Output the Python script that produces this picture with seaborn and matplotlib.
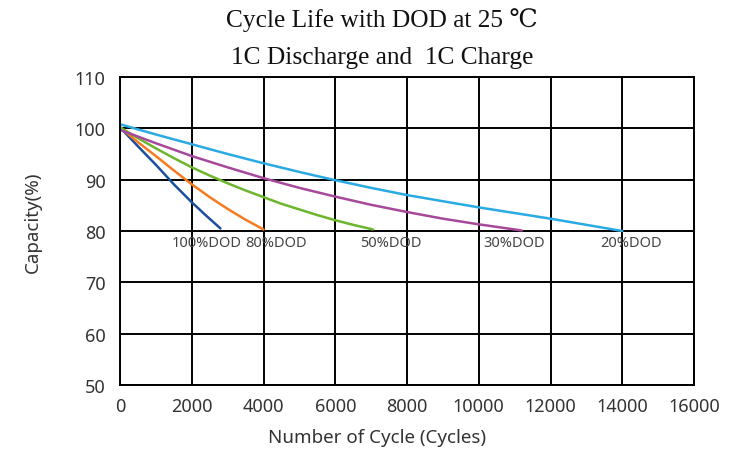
import numpy as np
import pandas as pd
import matplotlib
matplotlib.use("Agg")
import matplotlib.pyplot as plt
import seaborn as sns

# data
dod_100_x = [0, 500, 1000, 1500, 2000, 2400, 2800]
dod_100_y = [100.2, 96.5, 92.9, 89.1, 85.6, 83.0, 80.5]
dod_80_x = [0, 500, 1000, 1500, 2000, 2500, 3000, 3500, 4000]
dod_80_y = [100.2, 97.3, 94.6, 91.8, 89.1, 86.6, 84.3, 82.2, 80.3]
dod_50_x = [0, 500, 1000, 1500, 2000, 2500, 3000, 3500, 4000, 4500, 5000, 5500, 6000, 6500, 7050]
dod_50_y = [100.2, 98.1, 96.1, 94.2, 92.4, 90.8, 89.3, 87.9, 86.6, 85.3, 84.2, 83.1, 82.1, 81.2, 80.3]
dod_30_x = [0, 1000, 2000, 3000, 4000, 5000, 6000, 7000, 8000, 9000, 10000, 11200]
dod_30_y = [99.7, 97.1, 94.6, 92.4, 90.3, 88.4, 86.7, 85.1, 83.7, 82.4, 81.3, 80.1]
dod_20_x = [0, 1000, 2000, 3000, 4000, 5000, 6000, 7000, 8000, 9000, 10000, 11000, 12000, 13000, 14000]
dod_20_y = [100.8, 98.8, 96.9, 95.0, 93.2, 91.5, 89.9, 88.4, 87.0, 85.8, 84.6, 83.5, 82.4, 81.2, 80.0]

series_names = ["100%DOD", "80%DOD", "50%DOD", "30%DOD", "20%DOD"]
series_x = [dod_100_x, dod_80_x, dod_50_x, dod_30_x, dod_20_x]
series_y = [dod_100_y, dod_80_y, dod_50_y, dod_30_y, dod_20_y]
colors = ["#1d4f9f", "#f47b20", "#6cb52d", "#a6499b", "#2aaae2"]

# left edge of each curve label (data units)
label_x = [1450, 3480, 6700, 10130, 13380]
label_y = 77.7

rows = []
for name, xs, ys in zip(series_names, series_x, series_y):
    for x, y in zip(xs, ys):
        rows.append({"cycles": x, "capacity": y, "dod": name})
df = pd.DataFrame(rows)

sns.set_theme(style="white")
plt.rcParams["font.family"] = ["Noto Sans", "DejaVu Sans"]

fig = plt.figure(figsize=(7.31, 4.56), dpi=100)
ax = fig.add_axes([120 / 731, 1 - 386 / 456, 574 / 731, 308 / 456])

sns.lineplot(data=df, x="cycles", y="capacity", hue="dod", palette=colors,
             hue_order=series_names, linewidth=1.8, legend=False, ax=ax)

for name, lx in zip(series_names, label_x):
    ax.text(lx, label_y, name, fontsize=10.5, color="#444444", ha="left", va="center")

ax.set_xlim(0, 16000)
ax.set_ylim(50, 110)
ax.set_xticks(np.arange(0, 16001, 2000))
ax.set_yticks(np.arange(50, 111, 10))
ax.grid(True, color="black", linewidth=1.4)
ax.set_axisbelow(True)
for s in ax.spines.values():
    s.set_color("black")
    s.set_linewidth(1.4)
ax.tick_params(axis="both", length=0, labelsize=13, labelcolor="#333333")
ax.tick_params(axis="x", pad=9)
ax.tick_params(axis="y", pad=10.5)

ax.set_xlabel("Number of Cycle (Cycles)", fontsize=13.5, color="#333333")
ax.set_ylabel("Capacity(%)", fontsize=13.5, color="#333333")
ax.xaxis.set_label_coords((377 - 120) / 574, -52 / 308)
ax.yaxis.set_label_coords((33 - 120) / 574, (386 - 222) / 308)
ax.xaxis.label.set_va("center")
ax.yaxis.label.set_va("center")

serif = ["Liberation Serif", "DejaVu Serif"]
fig.text(382 / 731, 1 - 20 / 456, "Cycle Life with DOD at 25 \u2103", ha="center", va="center",
         fontsize=18.3, family=serif, color="#111111")
fig.text(382 / 731, 1 - 58 / 456, "1C Discharge and  1C Charge", ha="center", va="center",
         fontsize=18.3, family=serif, color="#111111")

fig.savefig("out.png", dpi=100)
